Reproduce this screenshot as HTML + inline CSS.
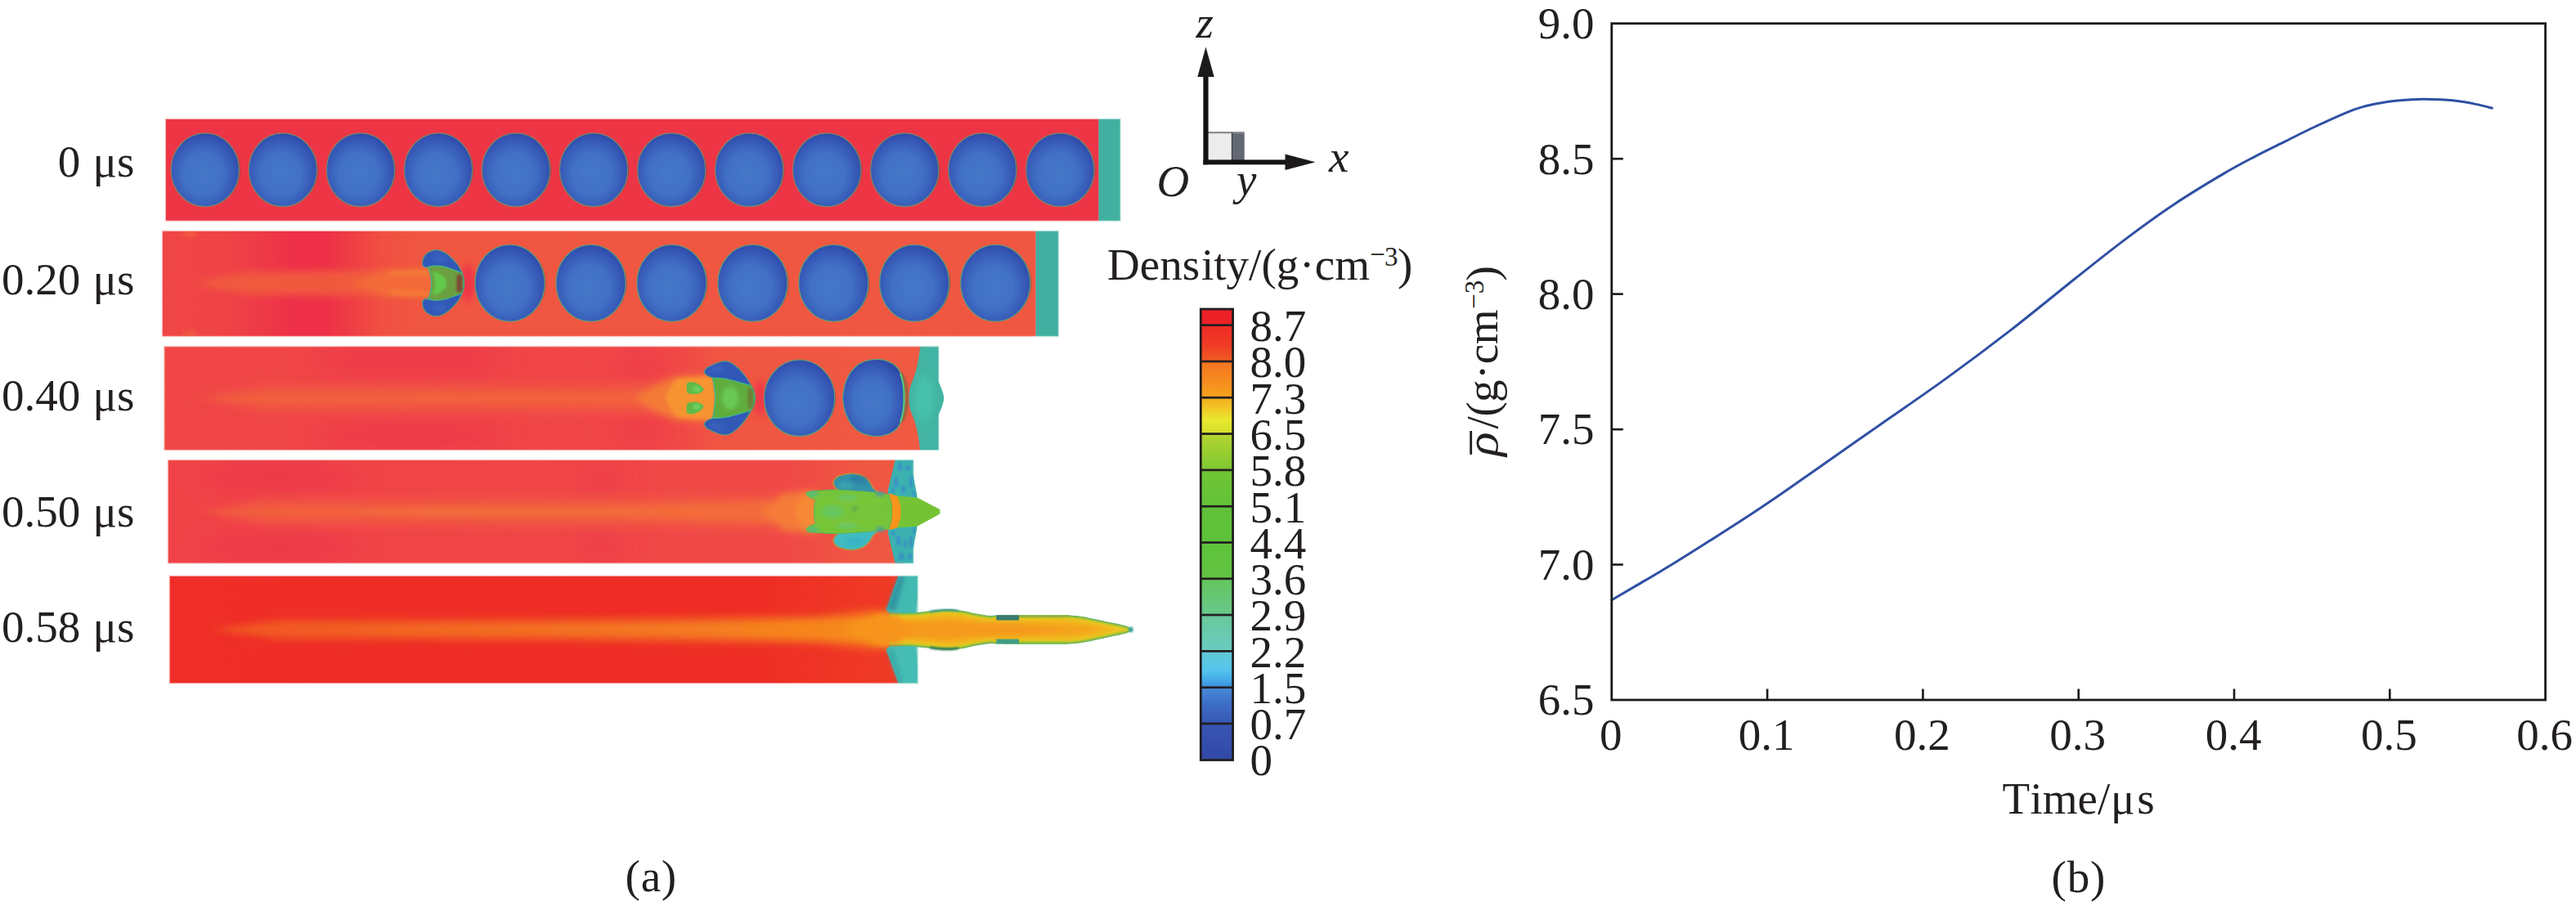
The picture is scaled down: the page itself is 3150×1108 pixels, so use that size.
<!DOCTYPE html>
<html><head><meta charset="utf-8"><title>figure</title>
<style>
html,body{margin:0;padding:0;background:#fff;}
body{width:3150px;height:1108px;overflow:hidden;position:relative;font-family:"Liberation Serif",serif;}
svg{position:absolute;left:0;top:0;display:block;}
text{font-family:"Liberation Serif",serif;font-size:55px;fill:#231f20;}
.it{font-style:italic;}
</style></head><body>
<svg width="3150" height="1108" viewBox="0 0 3150 1108">
<defs>
<radialGradient id="gb" cx="0.47" cy="0.56" r="0.58">
 <stop offset="0" stop-color="#4677c8"/><stop offset="0.5" stop-color="#4171c5"/><stop offset="0.8" stop-color="#3659b7"/><stop offset="1" stop-color="#2e48a7"/>
</radialGradient>
<filter id="b2" x="-20%" y="-20%" width="140%" height="140%"><feGaussianBlur stdDeviation="2"/></filter>
<filter id="b1" x="-20%" y="-20%" width="140%" height="140%"><feGaussianBlur stdDeviation="1"/></filter>
<filter id="b07" x="-20%" y="-20%" width="140%" height="140%"><feGaussianBlur stdDeviation="0.7"/></filter>
<filter id="b15" x="-30%" y="-30%" width="160%" height="160%"><feGaussianBlur stdDeviation="1.5"/></filter>
<filter id="b3" x="-30%" y="-50%" width="160%" height="200%"><feGaussianBlur stdDeviation="3"/></filter>
<filter id="b4" x="-30%" y="-50%" width="160%" height="200%"><feGaussianBlur stdDeviation="4"/></filter>
<filter id="b6" x="-30%" y="-60%" width="160%" height="220%"><feGaussianBlur stdDeviation="6"/></filter>
<filter id="b10" x="-30%" y="-80%" width="160%" height="260%"><feGaussianBlur stdDeviation="10"/></filter>
<filter id="b14" x="-30%" y="-100%" width="160%" height="300%"><feGaussianBlur stdDeviation="14"/></filter>
<filter id="b20" x="-50%" y="-50%" width="200%" height="200%"><feGaussianBlur stdDeviation="20"/></filter>
<linearGradient id="r1bg" x1="0" x2="1" y1="0" y2="0">
 <stop offset="0" stop-color="#f04646"/><stop offset="0.07" stop-color="#ef4346"/><stop offset="0.115" stop-color="#ee3a47"/><stop offset="0.145" stop-color="#ee3148"/><stop offset="0.19" stop-color="#ee3148"/><stop offset="0.215" stop-color="#ef3d46"/><stop offset="0.25" stop-color="#f04f42"/><stop offset="0.29" stop-color="#f05641"/><stop offset="1" stop-color="#f05741"/>
</linearGradient>
<linearGradient id="r2bg" x1="0" x2="1" y1="0" y2="0">
 <stop offset="0" stop-color="#f04646"/><stop offset="0.62" stop-color="#f04547"/><stop offset="0.68" stop-color="#f04946"/><stop offset="0.73" stop-color="#f05642"/><stop offset="1" stop-color="#f05942"/>
</linearGradient>
<linearGradient id="r3bg" x1="0" x2="1" y1="0" y2="0">
 <stop offset="0" stop-color="#f04347"/><stop offset="0.6" stop-color="#f04647"/><stop offset="0.85" stop-color="#f04a46"/><stop offset="0.93" stop-color="#f05642"/><stop offset="1" stop-color="#f05842"/>
</linearGradient>
<linearGradient id="r4bg" x1="0" x2="1" y1="0" y2="0">
 <stop offset="0" stop-color="#ee2e27"/><stop offset="0.8" stop-color="#ee2d25"/><stop offset="1" stop-color="#ef3c25"/>
</linearGradient>
<linearGradient id="r4core" gradientUnits="userSpaceOnUse" x1="300" x2="1090" y1="0" y2="0">
 <stop offset="0" stop-color="#f15d24"/><stop offset="0.3" stop-color="#f36b22"/><stop offset="0.65" stop-color="#f47a20"/><stop offset="0.92" stop-color="#f6881f"/><stop offset="1" stop-color="#f7921e"/>
</linearGradient>
<linearGradient id="cbar" x1="0" x2="0" y1="0" y2="1">
<stop offset="0.0000" stop-color="#ec1f27"/><stop offset="0.0345" stop-color="#ed2226"/><stop offset="0.0381" stop-color="#ee2a25"/><stop offset="0.0762" stop-color="#ef3a24"/><stop offset="0.1142" stop-color="#f15a25"/><stop offset="0.1179" stop-color="#f47421"/><stop offset="0.1578" stop-color="#f58a1f"/><stop offset="0.1940" stop-color="#f7a21c"/><stop offset="0.1976" stop-color="#f4ac1e"/><stop offset="0.2303" stop-color="#efd52a"/><stop offset="0.2466" stop-color="#e8e82e"/><stop offset="0.2756" stop-color="#d3df2c"/><stop offset="0.2792" stop-color="#b3d430"/><stop offset="0.3155" stop-color="#98ce30"/><stop offset="0.3554" stop-color="#7ec832"/><stop offset="0.3590" stop-color="#70c534"/><stop offset="0.4352" stop-color="#62c238"/><stop offset="0.4388" stop-color="#5fc139"/><stop offset="0.5150" stop-color="#5dc23a"/><stop offset="0.5186" stop-color="#5fc33b"/><stop offset="0.5947" stop-color="#62c443"/><stop offset="0.5984" stop-color="#64c55c"/><stop offset="0.6763" stop-color="#68c88c"/><stop offset="0.6800" stop-color="#69c89a"/><stop offset="0.7561" stop-color="#69ccc0"/><stop offset="0.7597" stop-color="#62c8d4"/><stop offset="0.8015" stop-color="#53c4ee"/><stop offset="0.8232" stop-color="#44a8e8"/><stop offset="0.8377" stop-color="#3c8ede"/><stop offset="0.8413" stop-color="#4789d8"/><stop offset="0.8776" stop-color="#3d6cc6"/><stop offset="0.9175" stop-color="#3757b4"/><stop offset="0.9211" stop-color="#3955b3"/><stop offset="1.0000" stop-color="#3149a7"/></linearGradient>
</defs>
<g id="row0"><rect x="201.6" y="144.6" width="1142.0" height="126.4" fill="#fbdcda"/><rect x="202.3" y="145.3" width="1141.3" height="125.0" fill="#f6a8a4"/><rect x="1343.6" y="144.6" width="27.2" height="126.4" fill="#d4efea"/><rect x="1343.6" y="145.3" width="26.5" height="125.0" fill="#9fd8cf"/><rect x="203" y="146" width="1140.6" height="123.6" fill="#ee3545"/><rect x="1343.6" y="146" width="25.8" height="123.6" fill="#41b0a0"/><ellipse cx="252.4" cy="208.1" rx="41.7" ry="43.4" fill="#6f4d4a" opacity="0.6"/><ellipse cx="250.8" cy="207.7" rx="41.7" ry="44.9" fill="url(#gb)" stroke="#7b8a6a" stroke-width="1.3" stroke-opacity="0.9"/><ellipse cx="347.5" cy="208.1" rx="41.7" ry="43.4" fill="#6f4d4a" opacity="0.6"/><ellipse cx="345.9" cy="207.7" rx="41.7" ry="44.9" fill="url(#gb)" stroke="#7b8a6a" stroke-width="1.3" stroke-opacity="0.9"/><ellipse cx="442.5" cy="208.1" rx="41.7" ry="43.4" fill="#6f4d4a" opacity="0.6"/><ellipse cx="440.9" cy="207.7" rx="41.7" ry="44.9" fill="url(#gb)" stroke="#7b8a6a" stroke-width="1.3" stroke-opacity="0.9"/><ellipse cx="537.6" cy="208.1" rx="41.7" ry="43.4" fill="#6f4d4a" opacity="0.6"/><ellipse cx="536.0" cy="207.7" rx="41.7" ry="44.9" fill="url(#gb)" stroke="#7b8a6a" stroke-width="1.3" stroke-opacity="0.9"/><ellipse cx="632.6" cy="208.1" rx="41.7" ry="43.4" fill="#6f4d4a" opacity="0.6"/><ellipse cx="631.0" cy="207.7" rx="41.7" ry="44.9" fill="url(#gb)" stroke="#7b8a6a" stroke-width="1.3" stroke-opacity="0.9"/><ellipse cx="727.6" cy="208.1" rx="41.7" ry="43.4" fill="#6f4d4a" opacity="0.6"/><ellipse cx="726.0" cy="207.7" rx="41.7" ry="44.9" fill="url(#gb)" stroke="#7b8a6a" stroke-width="1.3" stroke-opacity="0.9"/><ellipse cx="822.7" cy="208.1" rx="41.7" ry="43.4" fill="#6f4d4a" opacity="0.6"/><ellipse cx="821.1" cy="207.7" rx="41.7" ry="44.9" fill="url(#gb)" stroke="#7b8a6a" stroke-width="1.3" stroke-opacity="0.9"/><ellipse cx="917.8" cy="208.1" rx="41.7" ry="43.4" fill="#6f4d4a" opacity="0.6"/><ellipse cx="916.2" cy="207.7" rx="41.7" ry="44.9" fill="url(#gb)" stroke="#7b8a6a" stroke-width="1.3" stroke-opacity="0.9"/><ellipse cx="1012.8" cy="208.1" rx="41.7" ry="43.4" fill="#6f4d4a" opacity="0.6"/><ellipse cx="1011.2" cy="207.7" rx="41.7" ry="44.9" fill="url(#gb)" stroke="#7b8a6a" stroke-width="1.3" stroke-opacity="0.9"/><ellipse cx="1107.8" cy="208.1" rx="41.7" ry="43.4" fill="#6f4d4a" opacity="0.6"/><ellipse cx="1106.2" cy="207.7" rx="41.7" ry="44.9" fill="url(#gb)" stroke="#7b8a6a" stroke-width="1.3" stroke-opacity="0.9"/><ellipse cx="1202.9" cy="208.1" rx="41.7" ry="43.4" fill="#6f4d4a" opacity="0.6"/><ellipse cx="1201.3" cy="207.7" rx="41.7" ry="44.9" fill="url(#gb)" stroke="#7b8a6a" stroke-width="1.3" stroke-opacity="0.9"/><ellipse cx="1297.9" cy="208.1" rx="41.7" ry="43.4" fill="#6f4d4a" opacity="0.6"/><ellipse cx="1296.3" cy="207.7" rx="41.7" ry="44.9" fill="url(#gb)" stroke="#7b8a6a" stroke-width="1.3" stroke-opacity="0.9"/></g>
<g id="row1"><rect x="197.6" y="281.6" width="1069.0" height="130.6" fill="#fbdcda"/><rect x="198.3" y="282.3" width="1068.3" height="129.2" fill="#f6a8a4"/><rect x="1266.6" y="281.6" width="28.6" height="130.6" fill="#d4efea"/><rect x="1266.6" y="282.3" width="27.9" height="129.2" fill="#9fd8cf"/><rect x="199" y="283" width="1067.6" height="127.8" fill="url(#r1bg)"/><rect x="1266.6" y="283" width="27.2" height="127.8" fill="#41b0a0"/><clipPath id="c1"><rect x="199" y="283" width="1067.6" height="127.8"/></clipPath><g clip-path="url(#c1)"><g filter="url(#b3)" opacity="0.8"><ellipse cx="232" cy="285" rx="9" ry="4" fill="#f3683f"/><ellipse cx="232" cy="409" rx="9" ry="4" fill="#f3683f"/></g></g><g filter="url(#b4)"><path d="M236,346.3 L300,332.5 L470,330 L526,328 L526,365 L470,362.5 L300,360 Z" fill="#f15c3e" opacity="0.92"/></g><g filter="url(#b3)"><path d="M428,346.3 L470,330 L528,327.5 L528,365.5 L470,362.5 Z" fill="#f36b39"/></g><g filter="url(#b2)"><path d="M476,332.5 L526,330.5 L526,336 L476,337 Z" fill="#f57d38"/><path d="M476,360 L526,362 L526,356.5 L476,355.5 Z" fill="#f57d38"/></g><ellipse cx="572" cy="346.2" rx="8" ry="22" fill="#ee3048" filter="url(#b4)"/><g filter="url(#b07)"><path d="M516.3,324.0 C516.5,322.8 516.6,318.6 517.3,316.5 C518.0,314.4 519.1,312.8 520.5,311.3 C521.9,309.8 523.6,308.5 525.5,307.6 C527.4,306.7 529.6,306.0 531.8,305.8 C534.0,305.6 536.1,305.6 538.5,306.4 C540.9,307.1 543.7,308.7 546.0,310.3 C548.3,311.9 550.4,313.8 552.5,315.8 C554.6,317.8 556.9,320.2 558.7,322.5 C560.5,324.8 562.0,327.1 563.2,329.5 C564.5,331.9 565.5,334.2 566.2,337.0 C566.9,339.8 567.6,343.1 567.6,346.2 C567.6,349.3 566.9,352.6 566.2,355.4 C565.5,358.2 564.5,360.5 563.2,362.9 C562.0,365.3 560.5,367.6 558.7,369.9 C556.9,372.2 554.6,374.6 552.5,376.6 C550.4,378.6 548.3,380.5 546.0,382.1 C543.7,383.7 540.9,385.2 538.5,386.0 C536.1,386.8 534.0,386.8 531.8,386.6 C529.6,386.4 527.4,385.7 525.5,384.8 C523.6,383.9 521.9,382.6 520.5,381.1 C519.1,379.6 518.0,378.0 517.3,375.9 C516.6,373.8 516.5,369.6 516.3,368.4 L516.3,368.4 C516.9,367.9 518.8,365.8 520.0,365.4 C521.2,365.0 523.0,365.7 523.6,365.8 L523.6,365.8 C524.1,364.3 525.9,360.3 526.6,357.0 C527.3,353.7 527.6,349.8 527.6,346.2 C527.6,342.6 527.3,338.8 526.6,335.5 C525.9,332.2 524.1,328.1 523.6,326.6 L523.6,326.6 C523.0,326.7 521.2,327.4 520.0,327.0 C518.8,326.6 516.9,324.5 516.3,324.0 Z" fill="#3158b7" stroke="#5f9a78" stroke-width="1.2"/><path d="M523.6,326.6 C524.8,326.4 528.4,325.4 531.0,325.2 C533.6,325.0 536.2,325.1 539.0,325.5 C541.8,325.9 545.0,326.7 548.0,327.6 C551.0,328.5 554.3,329.8 557.0,330.8 C559.7,331.8 563.2,333.1 564.4,333.6 L564.4,333.6 C564.8,334.7 566.2,337.9 566.6,340.0 C567.0,342.1 567.0,344.1 567.0,346.2 C567.0,348.3 567.0,350.3 566.6,352.4 C566.2,354.5 564.8,357.7 564.4,358.8 L564.4,358.8 C563.2,359.3 559.7,360.6 557.0,361.6 C554.3,362.6 551.0,363.9 548.0,364.8 C545.0,365.7 541.8,366.5 539.0,366.9 C536.2,367.3 533.6,367.4 531.0,367.2 C528.4,367.0 524.8,366.0 523.6,365.8 L523.6,365.8 C524.1,364.3 525.9,360.3 526.6,357.0 C527.3,353.7 527.6,349.8 527.6,346.2 C527.6,342.6 527.3,338.8 526.6,335.5 C525.9,332.2 524.1,328.1 523.6,326.6 Z" fill="#6c9f3f" stroke="#40b88c" stroke-width="1.3"/></g><ellipse cx="538" cy="316" rx="9" ry="5" fill="#3c66c0" filter="url(#b2)" opacity="0.7"/><ellipse cx="538" cy="376.5" rx="9" ry="5" fill="#3c66c0" filter="url(#b2)" opacity="0.7"/><path d="M528.5,331.5 C530.5,336 531.6,341 531.6,346.2 C531.6,351.5 530.5,356.5 528.5,361 C539,359.5 546,353.5 546,346.2 C546,339 539,333 528.5,331.5 Z" fill="#64c94b" filter="url(#b15)"/><rect x="558.3" y="335.2" width="7.2" height="22.4" rx="3" fill="#7c4a36" filter="url(#b15)"/><ellipse cx="625.1" cy="346.6" rx="42.6" ry="45.4" fill="#6f4d4a" opacity="0.6"/><ellipse cx="623.5" cy="346.2" rx="42.6" ry="46.9" fill="url(#gb)" stroke="#5fa07a" stroke-width="1.3" stroke-opacity="0.9"/><ellipse cx="724.1" cy="346.6" rx="42.6" ry="45.4" fill="#6f4d4a" opacity="0.6"/><ellipse cx="722.5" cy="346.2" rx="42.6" ry="46.9" fill="url(#gb)" stroke="#5fa07a" stroke-width="1.3" stroke-opacity="0.9"/><ellipse cx="823.0" cy="346.6" rx="42.6" ry="45.4" fill="#6f4d4a" opacity="0.6"/><ellipse cx="821.4" cy="346.2" rx="42.6" ry="46.9" fill="url(#gb)" stroke="#5fa07a" stroke-width="1.3" stroke-opacity="0.9"/><ellipse cx="922.0" cy="346.6" rx="42.6" ry="45.4" fill="#6f4d4a" opacity="0.6"/><ellipse cx="920.4" cy="346.2" rx="42.6" ry="46.9" fill="url(#gb)" stroke="#5fa07a" stroke-width="1.3" stroke-opacity="0.9"/><ellipse cx="1020.9" cy="346.6" rx="42.6" ry="45.4" fill="#6f4d4a" opacity="0.6"/><ellipse cx="1019.3" cy="346.2" rx="42.6" ry="46.9" fill="url(#gb)" stroke="#5fa07a" stroke-width="1.3" stroke-opacity="0.9"/><ellipse cx="1119.8" cy="346.6" rx="42.6" ry="45.4" fill="#6f4d4a" opacity="0.6"/><ellipse cx="1118.2" cy="346.2" rx="42.6" ry="46.9" fill="url(#gb)" stroke="#5fa07a" stroke-width="1.3" stroke-opacity="0.9"/><ellipse cx="1218.8" cy="346.6" rx="42.6" ry="45.4" fill="#6f4d4a" opacity="0.6"/><ellipse cx="1217.2" cy="346.2" rx="42.6" ry="46.9" fill="url(#gb)" stroke="#5fa07a" stroke-width="1.3" stroke-opacity="0.9"/></g>
<g id="row2"><rect x="199.9" y="422.8" width="925.1" height="128.5" fill="#fbdcda"/><rect x="200.6" y="423.5" width="924.4" height="127.1" fill="#f6a8a4"/><rect x="1125.0" y="422.8" width="23.7" height="128.5" fill="#d4efea"/><rect x="1125.0" y="423.5" width="23.0" height="127.1" fill="#9fd8cf"/><clipPath id="c2"><rect x="201.3" y="424.2" width="960" height="125.7"/></clipPath><g clip-path="url(#c2)"><rect x="201.3" y="424.2" width="930" height="125.7" fill="url(#r2bg)"/><g filter="url(#b14)"><ellipse cx="500" cy="441" rx="125" ry="15" fill="#ee3849"/><ellipse cx="500" cy="533" rx="125" ry="15" fill="#ee3849"/><ellipse cx="785" cy="447" rx="32" ry="13" fill="#ee3b48"/><ellipse cx="785" cy="527" rx="32" ry="13" fill="#ee3b48"/></g><g filter="url(#b4)"><path d="M240,486.8 L320,469 L700,467 L800,465 L830,461 L830,513 L800,509 L700,507 L320,505 Z" fill="#f15242" opacity="0.9"/><path d="M252,486.8 L330,479.5 L700,478 L800,476 L800,498 L700,496 L330,494.5 Z" fill="#f2603c"/><path d="M775,486.8 L800,472 L826,460 L874,458 L874,516 L826,514 L800,502 Z" fill="#f47a37"/></g><path d="M813,486.8 L822,470 L830,463 L873,460.5 L875,486.8 L873,513 L830,510.5 L822,504 Z" fill="#f79433" filter="url(#b2)"/><ellipse cx="929" cy="486.8" rx="7" ry="22" fill="#ee3648" filter="url(#b4)"/><path d="M1125,424.2 L1147.3,424.2 L1147.3,466 C1150,472 1154.3,481 1154.3,486.8 C1154.3,493 1150,502 1147.3,508 L1147.3,549.9 L1125,549.9 C1123.5,535 1121,520 1114.5,505 C1110.5,497 1110.5,477 1114.5,469 C1121,454 1123.5,439 1125,424.2 Z" fill="#43b4a3"/><ellipse cx="1130" cy="486.8" rx="12" ry="28" fill="#4ac9b3" opacity="0.65" filter="url(#b4)"/><g filter="url(#b07)"><path d="M861.0,454.5 C861.1,454.3 861.0,454.0 861.6,453.2 C862.2,452.4 862.7,450.8 864.6,449.5 C866.5,448.2 870.5,446.5 873.2,445.3 C875.9,444.1 878.6,443.1 880.9,442.5 C883.2,441.9 885.0,441.6 887.1,441.7 C889.2,441.8 891.1,442.1 893.4,443.3 C895.7,444.5 898.8,446.8 901.1,448.7 C903.4,450.6 905.3,452.7 907.3,454.9 C909.2,457.1 911.0,459.2 912.8,461.9 C914.6,464.6 916.7,468.3 918.2,471.2 C919.8,474.1 921.2,476.4 922.1,479.0 C923.0,481.6 923.6,484.2 923.6,486.8 C923.6,489.4 923.0,492.0 922.1,494.6 C921.2,497.2 919.8,499.6 918.2,502.4 C916.7,505.3 914.6,509.0 912.8,511.7 C911.0,514.4 909.2,516.5 907.3,518.7 C905.3,520.9 903.4,523.0 901.1,524.9 C898.8,526.8 895.7,529.1 893.4,530.3 C891.1,531.5 889.2,531.8 887.1,531.9 C885.0,532.0 883.2,531.7 880.9,531.1 C878.6,530.5 875.9,529.5 873.2,528.3 C870.5,527.1 866.5,525.4 864.6,524.1 C862.7,522.8 862.2,521.2 861.6,520.4 C861.0,519.6 861.1,519.3 861.0,519.1 L861.0,519.1 C861.1,518.7 861.1,517.8 861.8,516.9 C862.5,516.0 863.8,514.7 865.4,513.8 C867.0,512.9 870.6,511.8 871.6,511.4 L871.6,511.4 C871.9,509.4 873.1,503.4 873.6,499.3 C874.1,495.2 874.7,491.0 874.7,486.8 C874.7,482.6 874.1,478.4 873.6,474.3 C873.1,470.2 871.9,464.2 871.6,462.2 L871.6,462.2 C870.6,461.8 867.0,460.7 865.4,459.8 C863.8,458.9 862.5,457.6 861.8,456.7 C861.1,455.8 861.1,454.9 861.0,454.5 Z" fill="#3158b7" stroke="#5f9a78" stroke-width="1.2"/><path d="M871.6,462.2 C872.9,462.2 876.5,462.1 879.4,462.4 C882.2,462.6 885.1,463.0 888.7,463.7 C892.3,464.4 896.7,465.6 901.1,466.8 C905.5,468.0 912.2,469.8 915.1,470.7 C918.0,471.6 918.0,471.9 918.6,472.2 L918.6,472.2 C919.1,473.4 921.0,477.1 921.6,479.5 C922.2,481.9 922.4,484.4 922.4,486.8 C922.4,489.2 922.2,491.7 921.6,494.1 C921.0,496.5 919.1,500.2 918.6,501.4 L918.6,501.4 C918.0,501.7 918.0,502.0 915.1,502.9 C912.2,503.8 905.5,505.6 901.1,506.8 C896.7,508.0 892.3,509.2 888.7,509.9 C885.1,510.6 882.2,511.0 879.4,511.2 C876.5,511.5 872.9,511.4 871.6,511.4 L871.6,511.4 C871.9,509.4 873.1,503.4 873.6,499.3 C874.1,495.2 874.7,491.0 874.7,486.8 C874.7,482.6 874.1,478.4 873.6,474.3 C873.1,470.2 871.9,464.2 871.6,462.2 Z" fill="#61ad3e" stroke="#40b88c" stroke-width="1.2"/></g><ellipse cx="877" cy="451.5" rx="10" ry="4.5" fill="#3c66c0" filter="url(#b2)" opacity="0.6" transform="rotate(-18 877 451.5)"/><ellipse cx="877" cy="522.1" rx="10" ry="4.5" fill="#3c66c0" filter="url(#b2)" opacity="0.6" transform="rotate(18 877 522.1)"/><ellipse cx="893" cy="486.8" rx="10" ry="14" fill="#68c955" filter="url(#b2)"/><rect x="914.5" y="474" width="6.5" height="26" rx="3" fill="#6d7a38" filter="url(#b2)"/><g filter="url(#b07)"><path d="M839.8,468.5 C845,465.5 856,467.5 860.7,476.5 C857,483 845,483.5 840.2,480 C839.3,476 839.3,472 839.8,468.5 Z" fill="#62b947"/><path d="M839.8,505.1 C845,508.1 856,506.1 860.7,497.1 C857,490.6 845,490.1 840.2,493.6 C839.3,497.6 839.3,501.6 839.8,505.1 Z" fill="#62b947"/></g><ellipse cx="852" cy="476" rx="5" ry="3.5" fill="#6bd263" filter="url(#b1)"/><ellipse cx="852" cy="497.6" rx="5" ry="3.5" fill="#6bd263" filter="url(#b1)"/><ellipse cx="979.2" cy="487.2" rx="43.1" ry="45.1" fill="#6f4d4a" opacity="0.6"/><ellipse cx="977.6" cy="486.8" rx="43.1" ry="46.6" fill="url(#gb)" stroke="#5fa07a" stroke-width="1.3" stroke-opacity="0.9"/><path d="M1102,457 C1107.6,467 1109.2,478 1109.2,486.5 C1109.2,495 1107.6,506 1102,516" fill="none" stroke="#86653a" stroke-width="4.5" opacity="0.8" filter="url(#b1)"/><path d="M1030.4,486.5 C1030.9,483.6 1031.7,474.6 1033.4,469.2 C1035.2,463.8 1037.7,458.5 1040.9,454.3 C1044.1,450.1 1047.6,446.3 1052.8,443.8 C1058.0,441.3 1066.4,439.6 1072.1,439.4 C1077.8,439.1 1082.8,440.6 1087.0,442.3 C1091.2,444.0 1094.9,446.8 1097.5,449.8 C1100.1,452.8 1101.4,456.5 1102.7,460.2 C1104.0,463.9 1104.8,468.3 1105.4,472.1 C1106.0,475.9 1106.2,480.6 1106.2,483.0 C1106.2,485.4 1105.4,485.3 1105.4,486.5 C1105.4,487.7 1106.2,487.6 1106.2,490.0 C1106.2,492.4 1106.0,497.1 1105.4,500.9 C1104.8,504.7 1104.0,509.1 1102.7,512.8 C1101.4,516.5 1100.1,520.2 1097.5,523.2 C1094.9,526.2 1091.2,529.0 1087.0,530.7 C1082.8,532.4 1077.8,533.9 1072.1,533.6 C1066.4,533.4 1058.0,531.7 1052.8,529.2 C1047.6,526.7 1044.1,522.9 1040.9,518.7 C1037.7,514.5 1035.2,509.2 1033.4,503.8 C1031.7,498.4 1030.9,489.4 1030.4,486.5 Z" fill="url(#gb)" stroke="#5fa07a" stroke-width="1.3" filter="url(#b07)"/><path d="M1100.8,457 C1104.6,466 1105.6,476 1105.4,486.5 C1105.6,497 1104.6,507 1100.8,516" fill="none" stroke="#52c87a" stroke-width="2" filter="url(#b07)"/></g></g>
<g id="row3"><rect x="204.5" y="561.7" width="890.5" height="128.1" fill="#fbdcda"/><rect x="205.2" y="562.4" width="889.8" height="126.7" fill="#f6a8a4"/><rect x="1095.0" y="561.7" width="22.8" height="128.1" fill="#d4efea"/><rect x="1095.0" y="562.4" width="22.1" height="126.7" fill="#9fd8cf"/><clipPath id="c3"><rect x="205.9" y="563.1" width="960" height="125.3"/></clipPath><g clip-path="url(#c3)"><rect x="205.9" y="563.1" width="900" height="125.3" fill="url(#r3bg)"/><g filter="url(#b14)"><ellipse cx="340" cy="583" rx="105" ry="15" fill="#ee3849"/><ellipse cx="340" cy="669" rx="105" ry="15" fill="#ee3849"/><ellipse cx="735" cy="585" rx="30" ry="13" fill="#ee3b48"/><ellipse cx="735" cy="667" rx="30" ry="13" fill="#ee3b48"/></g><g filter="url(#b4)"><path d="M245,625.8 L325,608 L700,605 L960,601 L992,598 L992,654 L960,651 L700,647 L325,644 Z" fill="#f15242" opacity="0.9"/><path d="M256,625.8 L335,618.5 L700,617 L960,613 L960,639 L700,635 L335,633.5 Z" fill="#f2603c"/><path d="M420,625.8 L520,620 L780,619 L830,615 L960,611 L960,641 L830,637 L780,633 L520,632 Z" fill="#f36a3b"/><path d="M930,625.8 L960,603 L1000,600.5 L1000,651.5 L960,649 Z" fill="#f47c37"/></g><path d="M972,625.8 L982,604 L1000,602 L1000,650 L982,648 Z" fill="#f68a36" filter="url(#b3)"/><path d="M1094.6,563.1 L1116.4,563.1 L1116.4,579 L1121.5,606.6 L1121.5,645 L1116.4,672.5 L1116.4,688.4 L1094.6,688.4 L1085.8,652.3 L1085.8,599.3 Z" fill="#3bb1b0"/><g filter="url(#b1)" opacity="0.75"><rect x="1098" y="566" width="5" height="10" rx="2" fill="#3a8acb"/><rect x="1107" y="570" width="7" height="5" rx="2" fill="#3a8acb"/><rect x="1112" y="583" width="4" height="14" rx="2" fill="#3a8acb"/><rect x="1093" y="584" width="5" height="12" rx="2" fill="#3a8acb"/><rect x="1102" y="594" width="5" height="9" rx="2" fill="#3a8acb"/><rect x="1096" y="655" width="5" height="12" rx="2" fill="#3a8acb"/><rect x="1105" y="660" width="4" height="10" rx="2" fill="#3a8acb"/><rect x="1112" y="655" width="4" height="14" rx="2" fill="#3a8acb"/><rect x="1099" y="676" width="6" height="9" rx="2" fill="#3a8acb"/><rect x="1110" y="677" width="5" height="7" rx="2" fill="#3a8acb"/><rect x="1090" y="597" width="4" height="6" rx="2" fill="#3a8acb"/><rect x="1090" y="649" width="4" height="6" rx="2" fill="#3a8acb"/><rect x="1116" y="600" width="3" height="8" rx="2" fill="#3a8acb"/><rect x="1116" y="645" width="3" height="8" rx="2" fill="#3a8acb"/></g><g filter="url(#b07)"><path d="M1018.8,591.3 C1019.1,590.4 1019.1,587.6 1020.5,586.0 C1021.9,584.4 1023.5,582.7 1027.0,581.5 C1030.5,580.3 1036.9,578.9 1041.4,578.9 C1045.9,578.9 1050.3,579.8 1054.0,581.5 C1057.7,583.2 1061.0,586.6 1063.3,589.1 C1065.6,591.6 1066.0,594.4 1067.6,596.4 C1069.2,598.4 1071.0,599.8 1073.0,601.0 C1075.0,602.2 1078.2,603.2 1079.3,603.7 L1079.3,603.7 C1076.1,603.7 1067.4,603.8 1060.0,603.5 C1052.6,603.2 1041.2,602.9 1035.0,602.0 C1028.8,601.1 1025.7,599.8 1023.0,598.0 C1020.3,596.2 1019.5,592.4 1018.8,591.3 Z" fill="#3392aa" stroke="#c28d38" stroke-width="1.6"/><path d="M1018.8,660.3 C1019.5,659.2 1020.3,655.4 1023.0,653.6 C1025.7,651.8 1028.8,650.5 1035.0,649.6 C1041.2,648.7 1052.6,648.4 1060.0,648.1 C1067.4,647.8 1076.1,647.9 1079.3,647.9 L1079.3,647.9 C1078.2,648.3 1075.0,649.4 1073.0,650.6 C1071.0,651.8 1069.2,653.2 1067.6,655.2 C1066.0,657.2 1065.6,660.0 1063.3,662.5 C1061.0,665.0 1057.7,668.4 1054.0,670.1 C1050.3,671.8 1045.9,672.7 1041.4,672.7 C1036.9,672.7 1030.5,671.3 1027.0,670.1 C1023.5,668.9 1021.9,667.2 1020.5,665.6 C1019.1,664.0 1019.1,661.2 1018.8,660.3 Z" fill="#3fbcc0" stroke="#c28d38" stroke-width="1.6"/></g><ellipse cx="1050" cy="586.5" rx="11" ry="4.5" fill="#2b7fa3" filter="url(#b2)" transform="rotate(12 1050 586.5)"/><ellipse cx="1034" cy="594" rx="9" ry="4" fill="#3aa4b0" filter="url(#b2)"/><ellipse cx="1046" cy="662" rx="12" ry="5" fill="#3ab2c4" filter="url(#b2)"/><g filter="url(#b07)"><path d="M1095,606.2 L1121.5,608.6 L1149.4,623 L1149.4,628.6 L1121.5,643.8 L1095,645.6 Z" fill="#74c335"/><path d="M1086.6,603.6 C1091,604.6 1094.5,605.6 1096.8,606.4 C1103.4,619 1103.4,633 1096.8,645.4 C1094.5,646.2 1091,647.2 1086.6,648.2 C1090.4,633 1090.4,619 1086.6,603.6 Z" fill="#f7941f"/><path d="M985.7,604.4 C985.8,604.1 986.0,603.1 986.5,602.6 C987.0,602.1 986.8,601.9 989.0,601.5 C991.2,601.1 994.7,600.6 1000.0,600.2 C1005.3,599.8 1013.9,599.0 1021.0,599.0 C1028.2,599.0 1034.4,599.5 1042.9,600.0 C1051.4,600.5 1064.7,601.5 1072.0,602.3 C1079.3,603.1 1084.2,604.2 1086.6,604.6 L1086.6,604.6 C1087.1,606.3 1089.2,611.5 1089.8,615.0 C1090.4,618.5 1090.4,622.2 1090.4,625.8 C1090.4,629.4 1090.4,633.1 1089.8,636.6 C1089.2,640.1 1087.1,645.3 1086.6,647.0 L1086.6,647.0 C1084.2,647.4 1079.3,648.5 1072.0,649.3 C1064.7,650.1 1051.4,651.0 1042.9,651.6 C1034.4,652.1 1028.2,652.6 1021.0,652.6 C1013.9,652.6 1005.3,651.8 1000.0,651.4 C994.7,651.0 991.2,650.5 989.0,650.1 C986.8,649.7 987.0,649.5 986.5,649.0 C986.0,648.5 985.8,647.5 985.7,647.2 L985.7,647.2 C986.4,646.6 988.1,644.7 990.0,643.5 C991.9,642.3 996.0,641.1 997.0,640.0 C998.0,638.9 996.3,637.5 996.2,637.0 L996.2,637.0 C996.1,635.1 995.4,629.5 995.4,625.8 C995.4,622.1 996.1,616.5 996.2,614.6 L996.2,614.6 C996.3,614.1 998.0,612.7 997.0,611.6 C996.0,610.5 991.9,609.2 990.0,608.0 C988.1,606.8 986.4,605.0 985.7,604.4 Z" fill="#74c53a" stroke="#5bb25a" stroke-width="1"/></g><g filter="url(#b2)"><ellipse cx="1018" cy="625.8" rx="13" ry="8" fill="#68c85f"/><ellipse cx="1036" cy="609.5" rx="12" ry="4" fill="#68c868"/><ellipse cx="1036" cy="642" rx="12" ry="4" fill="#68c868"/><ellipse cx="994" cy="604" rx="7" ry="2.2" fill="#4ab59a"/><ellipse cx="994" cy="647.5" rx="7" ry="2.2" fill="#4ab59a"/><ellipse cx="1076" cy="604" rx="5" ry="2.2" fill="#3f90b8"/><ellipse cx="1076" cy="647.5" rx="5" ry="2.2" fill="#3f90b8"/><rect x="1000" y="611.5" width="82" height="2" fill="#86c42e"/><rect x="1000" y="638" width="82" height="2" fill="#86c42e"/><ellipse cx="1045" cy="622" rx="3" ry="2.5" fill="#5a9a50"/></g></g></g>
<g id="row4"><rect x="206.3" y="703.4" width="892.2" height="133.2" fill="#fbdcda"/><rect x="207.0" y="704.1" width="891.5" height="131.8" fill="#f6a8a4"/><rect x="1098.5" y="703.4" width="24.6" height="133.2" fill="#d4efea"/><rect x="1098.5" y="704.1" width="23.9" height="131.8" fill="#9fd8cf"/><clipPath id="c4"><rect x="207.7" y="704.8" width="1200" height="130.4"/></clipPath><g clip-path="url(#c4)"><rect x="207.7" y="704.8" width="900" height="130.4" fill="url(#r4bg)"/><g filter="url(#b4)"><path d="M258,770 L340,758.5 L700,756 L1000,751.5 L1060,744 L1090,746 L1090,794 L1060,796 L1000,788.5 L700,784 L340,781.5 Z" fill="#f15624"/><path d="M300,770 L520,764.5 L830,762 L1000,758 L1090,751 L1090,789 L1000,782 L830,778 L520,775.5 Z" fill="url(#r4core)"/><path d="M1030,770 L1066,751 L1092,749 L1092,791 L1066,789 Z" fill="#f7941e"/></g><path d="M1098.5,704.8 L1121.7,704.8 L1121.7,728 L1120.4,750 L1087.7,750 L1083.8,746.1 Z" fill="#42bab1"/><path d="M1098.5,835.2 L1121.7,835.2 L1121.7,812 L1120.4,790 L1087.7,790 L1083.8,794.5 Z" fill="#45bdb4"/><path d="M1098.5,704.8 L1107,704.8 L1095,747 L1083.8,746.1 Z" fill="#3397a2" filter="url(#b2)"/><path d="M1098.5,835.2 L1104,835.2 L1092,793 L1083.8,794.5 Z" fill="#3aa7a8" filter="url(#b2)" opacity="0.8"/><path d="M1120.1,749.0 C1123.3,748.6 1132.7,747.5 1139.2,746.9 C1145.7,746.2 1152.4,745.0 1159.0,745.1 C1165.6,745.2 1173.3,746.4 1178.8,747.2 C1184.3,748.1 1186.9,749.3 1192.0,750.2 C1197.1,751.1 1204.8,752.4 1209.2,752.8 C1213.6,753.2 1212.5,752.6 1218.4,752.5 C1224.3,752.4 1232.9,752.2 1244.8,752.2 C1256.7,752.2 1279.5,752.2 1290.0,752.2 C1300.5,752.2 1302.8,752.1 1308.0,752.4 C1313.2,752.6 1316.1,753.0 1321.0,753.7 C1325.9,754.4 1331.2,755.6 1337.2,756.8 C1343.2,758.0 1350.4,759.7 1357.0,761.1 C1363.6,762.5 1372.1,763.9 1376.8,765.4 C1381.5,766.9 1384.0,769.2 1385.4,770.0 L1385.4,770.0 C1384.0,770.8 1381.5,773.1 1376.8,774.6 C1372.1,776.1 1363.6,777.5 1357.0,778.9 C1350.4,780.3 1343.2,782.0 1337.2,783.2 C1331.2,784.4 1325.9,785.6 1321.0,786.3 C1316.1,787.0 1313.2,787.4 1308.0,787.6 C1302.8,787.9 1300.5,787.8 1290.0,787.8 C1279.5,787.8 1256.7,787.8 1244.8,787.8 C1232.9,787.8 1224.3,787.6 1218.4,787.5 C1212.5,787.4 1213.6,786.8 1209.2,787.2 C1204.8,787.6 1197.1,788.9 1192.0,789.8 C1186.9,790.7 1184.3,791.9 1178.8,792.8 C1173.3,793.6 1165.6,794.8 1159.0,794.9 C1152.4,795.0 1145.7,793.8 1139.2,793.1 C1132.7,792.5 1123.3,791.4 1120.1,791.0 Z" fill="#52b488" filter="url(#b07)"/><path d="M1087.7,750.4 C1093.1,750.2 1111.5,749.9 1120.1,749.4 C1128.7,748.9 1132.7,747.9 1139.2,747.3 C1145.7,746.6 1152.4,745.5 1159.0,745.5 C1165.6,745.5 1173.3,746.8 1178.8,747.6 C1184.3,748.5 1186.9,749.7 1192.0,750.6 C1197.1,751.5 1204.8,752.8 1209.2,753.2 C1213.6,753.6 1212.5,753.0 1218.4,752.9 C1224.3,752.8 1232.9,752.6 1244.8,752.6 C1256.7,752.6 1279.5,752.6 1290.0,752.6 C1300.5,752.6 1302.8,752.5 1308.0,752.8 C1313.2,753.0 1316.1,753.4 1321.0,754.1 C1325.9,754.8 1331.2,756.0 1337.2,757.2 C1343.2,758.4 1350.4,760.1 1357.0,761.5 C1363.6,762.9 1372.2,764.4 1376.8,765.8 C1381.4,767.2 1383.3,769.3 1384.7,770.0 L1384.7,770.0 C1383.3,770.7 1381.4,772.8 1376.8,774.2 C1372.2,775.6 1363.6,777.1 1357.0,778.5 C1350.4,779.9 1343.2,781.6 1337.2,782.8 C1331.2,784.0 1325.9,785.2 1321.0,785.9 C1316.1,786.6 1313.2,787.0 1308.0,787.2 C1302.8,787.5 1300.5,787.4 1290.0,787.4 C1279.5,787.4 1256.7,787.4 1244.8,787.4 C1232.9,787.4 1224.3,787.2 1218.4,787.1 C1212.5,787.0 1213.6,786.4 1209.2,786.8 C1204.8,787.2 1197.1,788.5 1192.0,789.4 C1186.9,790.3 1184.3,791.5 1178.8,792.4 C1173.3,793.2 1165.6,794.5 1159.0,794.5 C1152.4,794.5 1145.7,793.4 1139.2,792.7 C1132.7,792.1 1128.7,791.1 1120.1,790.6 C1111.5,790.1 1093.1,789.8 1087.7,789.6 Z" fill="#7fb548" filter="url(#b07)"/><path d="M1087.7,751.6 C1093.1,751.4 1111.5,751.1 1120.1,750.6 C1128.7,750.1 1132.7,749.1 1139.2,748.5 C1145.7,747.9 1152.4,746.7 1159.0,746.7 C1165.6,746.8 1173.3,747.9 1178.8,748.8 C1184.3,749.6 1186.9,750.9 1192.0,751.8 C1197.1,752.7 1204.8,754.0 1209.2,754.4 C1213.6,754.8 1212.5,754.2 1218.4,754.1 C1224.3,754.0 1232.9,753.8 1244.8,753.8 C1256.7,753.8 1279.5,753.8 1290.0,753.8 C1300.5,753.8 1302.8,753.8 1308.0,754.0 C1313.2,754.2 1316.1,754.6 1321.0,755.3 C1325.9,756.0 1331.2,757.2 1337.2,758.4 C1343.2,759.6 1350.4,761.3 1357.0,762.7 C1363.6,764.1 1372.6,765.8 1376.8,767.0 C1381.0,768.2 1381.5,769.5 1382.4,770.0 L1382.4,770.0 C1381.5,770.5 1381.0,771.8 1376.8,773.0 C1372.6,774.2 1363.6,775.9 1357.0,777.3 C1350.4,778.7 1343.2,780.4 1337.2,781.6 C1331.2,782.8 1325.9,784.0 1321.0,784.7 C1316.1,785.4 1313.2,785.8 1308.0,786.0 C1302.8,786.2 1300.5,786.2 1290.0,786.2 C1279.5,786.2 1256.7,786.2 1244.8,786.2 C1232.9,786.2 1224.3,786.0 1218.4,785.9 C1212.5,785.8 1213.6,785.2 1209.2,785.6 C1204.8,786.0 1197.1,787.3 1192.0,788.2 C1186.9,789.1 1184.3,790.4 1178.8,791.2 C1173.3,792.1 1165.6,793.2 1159.0,793.3 C1152.4,793.3 1145.7,792.1 1139.2,791.5 C1132.7,790.9 1128.7,789.9 1120.1,789.4 C1111.5,788.9 1093.1,788.6 1087.7,788.4 Z" fill="#8fc43c" filter="url(#b07)"/><path d="M1087.7,753.0 C1093.1,752.8 1111.5,752.5 1120.1,752.0 C1128.7,751.5 1132.7,750.5 1139.2,749.9 C1145.7,749.2 1152.4,748.0 1159.0,748.1 C1165.6,748.2 1173.3,749.4 1178.8,750.2 C1184.3,751.1 1186.9,752.3 1192.0,753.2 C1197.1,754.1 1204.8,755.4 1209.2,755.8 C1213.6,756.2 1212.5,755.6 1218.4,755.5 C1224.3,755.4 1232.9,755.2 1244.8,755.2 C1256.7,755.2 1279.5,755.2 1290.0,755.2 C1300.5,755.2 1302.8,755.1 1308.0,755.4 C1313.2,755.6 1316.1,756.0 1321.0,756.7 C1325.9,757.4 1331.2,758.6 1337.2,759.8 C1343.2,761.0 1350.4,762.7 1357.0,764.1 C1363.6,765.5 1373.0,767.4 1376.8,768.4 C1380.6,769.4 1379.3,769.7 1379.8,770.0 L1379.8,770.0 C1379.3,770.3 1380.6,770.6 1376.8,771.6 C1373.0,772.6 1363.6,774.5 1357.0,775.9 C1350.4,777.3 1343.2,779.0 1337.2,780.2 C1331.2,781.4 1325.9,782.6 1321.0,783.3 C1316.1,784.0 1313.2,784.4 1308.0,784.6 C1302.8,784.9 1300.5,784.8 1290.0,784.8 C1279.5,784.8 1256.7,784.8 1244.8,784.8 C1232.9,784.8 1224.3,784.6 1218.4,784.5 C1212.5,784.4 1213.6,783.8 1209.2,784.2 C1204.8,784.6 1197.1,785.9 1192.0,786.8 C1186.9,787.7 1184.3,788.9 1178.8,789.8 C1173.3,790.6 1165.6,791.8 1159.0,791.9 C1152.4,792.0 1145.7,790.8 1139.2,790.1 C1132.7,789.5 1128.7,788.5 1120.1,788.0 C1111.5,787.5 1093.1,787.2 1087.7,787.0 Z" fill="#e9c822" filter="url(#b1)"/><path d="M1087.7,756.5 C1093.1,756.3 1111.5,756.0 1120.1,755.5 C1128.7,755.0 1132.7,754.0 1139.2,753.4 C1145.7,752.8 1152.4,751.5 1159.0,751.6 C1165.6,751.7 1173.3,752.9 1178.8,753.7 C1184.3,754.6 1186.9,755.8 1192.0,756.7 C1197.1,757.6 1204.8,758.9 1209.2,759.3 C1213.6,759.7 1212.5,759.1 1218.4,759.0 C1224.3,758.9 1232.9,758.8 1244.8,758.7 C1256.7,758.7 1279.5,758.7 1290.0,758.7 C1300.5,758.7 1302.8,758.6 1308.0,758.9 C1313.2,759.1 1316.1,759.5 1321.0,760.2 C1325.9,760.9 1331.2,762.1 1337.2,763.3 C1343.2,764.5 1351.9,766.5 1357.0,767.6 C1362.1,768.7 1366.2,769.6 1368.1,770.0 L1368.1,770.0 C1366.2,770.4 1362.1,771.3 1357.0,772.4 C1351.9,773.5 1343.2,775.5 1337.2,776.7 C1331.2,777.9 1325.9,779.1 1321.0,779.8 C1316.1,780.5 1313.2,780.9 1308.0,781.1 C1302.8,781.4 1300.5,781.3 1290.0,781.3 C1279.5,781.3 1256.7,781.3 1244.8,781.3 C1232.9,781.2 1224.3,781.1 1218.4,781.0 C1212.5,780.9 1213.6,780.3 1209.2,780.7 C1204.8,781.1 1197.1,782.4 1192.0,783.3 C1186.9,784.2 1184.3,785.4 1178.8,786.3 C1173.3,787.1 1165.6,788.3 1159.0,788.4 C1152.4,788.5 1145.7,787.2 1139.2,786.6 C1132.7,786.0 1128.7,785.0 1120.1,784.5 C1111.5,784.0 1093.1,783.7 1087.7,783.5 Z" fill="#f2b71f" filter="url(#b2)"/><g filter="url(#b3)"><path d="M1087.7,760.5 C1093.1,760.3 1111.5,760.0 1120.1,759.5 C1128.7,759.0 1132.7,758.0 1139.2,757.4 C1145.7,756.8 1152.4,755.5 1159.0,755.6 C1165.6,755.7 1173.3,756.9 1178.8,757.7 C1184.3,758.6 1186.9,759.8 1192.0,760.7 C1197.1,761.6 1204.8,762.9 1209.2,763.3 C1213.6,763.7 1212.5,763.1 1218.4,763.0 C1224.3,762.9 1232.9,762.8 1244.8,762.7 C1256.7,762.7 1279.5,762.7 1290.0,762.7 C1300.5,762.7 1302.8,762.6 1308.0,762.9 C1313.2,763.1 1316.1,763.5 1321.0,764.2 C1325.9,764.9 1332.4,766.3 1337.2,767.3 C1342.0,768.3 1347.6,769.5 1349.6,770.0 L1349.6,770.0 C1347.6,770.5 1342.0,771.7 1337.2,772.7 C1332.4,773.7 1325.9,775.1 1321.0,775.8 C1316.1,776.5 1313.2,776.9 1308.0,777.1 C1302.8,777.4 1300.5,777.3 1290.0,777.3 C1279.5,777.3 1256.7,777.3 1244.8,777.3 C1232.9,777.2 1224.3,777.1 1218.4,777.0 C1212.5,776.9 1213.6,776.3 1209.2,776.7 C1204.8,777.1 1197.1,778.4 1192.0,779.3 C1186.9,780.2 1184.3,781.4 1178.8,782.3 C1173.3,783.1 1165.6,784.3 1159.0,784.4 C1152.4,784.5 1145.7,783.2 1139.2,782.6 C1132.7,782.0 1128.7,781.0 1120.1,780.5 C1111.5,780.0 1093.1,779.7 1087.7,779.5 Z" fill="#f5a31d"/><path d="M1080,770 L1110,759 L1250,762 L1300,770 L1250,778 L1110,781 Z" fill="#f59a1c"/><path d="M1060,770 L1076,752 L1098,753 L1120,770 L1098,787 L1076,788 Z" fill="#f7941e"/></g><g filter="url(#b07)"><rect x="1218.4" y="752.2" width="27.6" height="6.4" fill="#3b7c6e"/><rect x="1218.4" y="781.6" width="27.6" height="5.6" fill="#3f9d80"/><rect x="1246" y="752.4" width="60" height="3" fill="#9ab03a" opacity="0.8"/><rect x="1246" y="784.8" width="60" height="2.6" fill="#86c03c" opacity="0.8"/></g><g filter="url(#b1)"><path d="M1137,746.8 C1150,744.3 1165,744.5 1172,746 L1172,748 C1165,747 1150,747 1137,749 Z" fill="#3a9a90"/><path d="M1137,793.2 C1150,795.9 1165,795.7 1172,794 L1172,791.6 C1165,792.8 1150,793 1137,790.8 Z" fill="#2a7555"/><ellipse cx="1383" cy="770" rx="2.6" ry="3.6" fill="#38a0a0"/></g></g></g>
<text x="164.5" y="216.0" text-anchor="end">0<tspan dx="1.5"> μs</tspan></text><text x="164.5" y="359.6" text-anchor="end">0.20<tspan dx="1.5"> μs</tspan></text><text x="164.5" y="501.8" text-anchor="end">0.40<tspan dx="1.5"> μs</tspan></text><text x="164.5" y="644.2" text-anchor="end">0.50<tspan dx="1.5"> μs</tspan></text><text x="164.5" y="785.4" text-anchor="end">0.58<tspan dx="1.5"> μs</tspan></text><g id="axes"><rect x="1476.5" y="161.7" width="45.2" height="35" fill="#ececec"/><rect x="1506.7" y="161.7" width="15" height="35" fill="#636872"/><rect x="1476.5" y="161" width="45.2" height="2.2" fill="#8a8d92"/><rect x="1505.8" y="162" width="1.6" height="35" fill="#44484f"/><rect x="1471.4" y="90" width="6.2" height="111.3" fill="#141213"/><rect x="1471.4" y="195.4" width="104" height="5.9" fill="#141213"/><path d="M1474.5,57.4 L1484.7,94 L1464.3,94 Z" fill="#1d1a1b"/><path d="M1608.5,198.3 L1571.5,208 L1571.5,188.6 Z" fill="#1d1a1b"/><text class="it" x="1462.6" y="46">z</text><text class="it" x="1625" y="209.8">x</text><text class="it" x="1414.6" y="239.5">O</text><text class="it" x="1512" y="238.3">y</text></g>
<text x="1354" y="342.3">Dens<tspan dx="2">ity/(g</tspan><tspan dx="0.7">·</tspan><tspan dx="0.5">cm</tspan><tspan font-size="33" dy="-20" dx="0.3">−</tspan><tspan font-size="33" dy="3" dx="-0.8">3</tspan><tspan dy="17" dx="-0.7">)</tspan></text><g id="cbar"><rect x="1468.3" y="378" width="39.3" height="551.5" fill="url(#cbar)" stroke="#231f20" stroke-width="2.8"/><rect x="1468" y="396.3" width="40" height="2.7" fill="#231f20"/><rect x="1468" y="440.6" width="40" height="2.7" fill="#231f20"/><rect x="1468" y="484.9" width="40" height="2.7" fill="#231f20"/><rect x="1468" y="529.2" width="40" height="2.7" fill="#231f20"/><rect x="1468" y="573.5" width="40" height="2.7" fill="#231f20"/><rect x="1468" y="617.9" width="40" height="2.7" fill="#231f20"/><rect x="1468" y="662.1" width="40" height="2.7" fill="#231f20"/><rect x="1468" y="706.4" width="40" height="2.7" fill="#231f20"/><rect x="1468" y="750.7" width="40" height="2.7" fill="#231f20"/><rect x="1468" y="795.0" width="40" height="2.7" fill="#231f20"/><rect x="1468" y="839.4" width="40" height="2.7" fill="#231f20"/><rect x="1468" y="883.6" width="40" height="2.7" fill="#231f20"/><text x="1528.5" y="417.1">8.7</text><text x="1528.5" y="461.4">8.0</text><text x="1528.5" y="505.6">7.3</text><text x="1528.5" y="549.9">6.5</text><text x="1528.5" y="594.2">5.8</text><text x="1528.5" y="638.5">5.1</text><text x="1528.5" y="682.7">4.4</text><text x="1528.5" y="727.0">3.6</text><text x="1528.5" y="771.3">2.9</text><text x="1528.5" y="815.5">2.2</text><text x="1528.5" y="859.8">1.5</text><text x="1528.5" y="904.1">0.7</text><text x="1528.5" y="948.3">0</text></g>
<g id="chart"><rect x="2159.8" y="842.5" width="2.6" height="13" fill="#1a1a1a"/><rect x="2350.1" y="842.5" width="2.6" height="13" fill="#1a1a1a"/><rect x="2540.4" y="842.5" width="2.6" height="13" fill="#1a1a1a"/><rect x="2730.7" y="842.5" width="2.6" height="13" fill="#1a1a1a"/><rect x="2921.0" y="842.5" width="2.6" height="13" fill="#1a1a1a"/><rect x="1970.8" y="689.2" width="14" height="2.6" fill="#1a1a1a"/><rect x="1970.8" y="523.8" width="14" height="2.6" fill="#1a1a1a"/><rect x="1970.8" y="358.3" width="14" height="2.6" fill="#1a1a1a"/><rect x="1970.8" y="192.9" width="14" height="2.6" fill="#1a1a1a"/><text x="1949.5" y="874.3" text-anchor="end">6.5</text><text x="1949.5" y="708.8" text-anchor="end">7.0</text><text x="1949.5" y="543.4" text-anchor="end">7.5</text><text x="1949.5" y="377.9" text-anchor="end">8.0</text><text x="1949.5" y="212.5" text-anchor="end">8.5</text><text x="1949.5" y="47.0" text-anchor="end">9.0</text><text x="1969.8" y="917.1" text-anchor="middle">0</text><text x="2160.1" y="917.1" text-anchor="middle">0.1</text><text x="2350.4" y="917.1" text-anchor="middle">0.2</text><text x="2540.7" y="917.1" text-anchor="middle">0.3</text><text x="2731.0" y="917.1" text-anchor="middle">0.4</text><text x="2921.3" y="917.1" text-anchor="middle">0.5</text><text x="3111.6" y="917.1" text-anchor="middle">0.6</text><path d="M1970.9,733.8 C1975.7,731.0 1987.3,724.2 1999.7,716.9 C2012.1,709.6 2030.2,699.1 2045.4,689.8 C2060.6,680.5 2075.6,671.0 2091.1,661.1 C2106.6,651.2 2124.1,640.1 2138.7,630.5 C2153.3,620.9 2165.2,612.8 2178.5,603.7 C2191.8,594.6 2197.9,590.1 2218.2,575.9 C2238.4,561.7 2273.1,537.5 2300.0,518.7 C2326.9,499.9 2352.9,482.3 2379.4,463.1 C2405.9,443.9 2432.3,424.2 2458.9,403.6 C2485.5,383.0 2515.6,358.1 2539.0,339.5 C2562.4,320.9 2579.6,307.1 2599.6,292.1 C2619.6,277.1 2639.3,262.7 2659.2,249.4 C2679.0,236.2 2702.1,222.4 2718.7,212.6 C2735.2,202.8 2745.8,197.5 2758.5,190.8 C2771.2,184.1 2783.1,178.5 2795.0,172.6 C2806.9,166.7 2817.3,161.3 2829.7,155.5 C2842.1,149.7 2859.6,141.8 2869.5,137.6 C2879.4,133.4 2882.8,132.5 2889.4,130.6 C2896.0,128.7 2902.6,127.4 2909.2,126.2 C2915.8,125.0 2922.5,124.0 2929.1,123.3 C2935.7,122.5 2943.0,122.0 2949.0,121.7 C2955.0,121.4 2958.3,121.2 2964.9,121.3 C2971.5,121.4 2981.4,121.6 2988.7,122.1 C2996.0,122.6 3002.0,123.2 3008.6,124.1 C3015.2,125.0 3022.0,126.2 3028.5,127.6 C3035.0,128.9 3044.2,131.4 3047.4,132.2" fill="none" stroke="#2f50a3" stroke-width="3.0" stroke-linecap="round"/><rect x="1970.8" y="28.7" width="1141.8" height="827.3" fill="none" stroke="#1a1a1a" stroke-width="2.8"/><text x="2448.6" y="995.2">T<tspan dx="2.2">ime/</tspan><tspan dx="0.7">μ</tspan><tspan dx="2.7">s</tspan></text><g transform="translate(1831,559.7) rotate(-90)"><text class="it" transform="translate(1.6,0) scale(1.12,1)" x="0" y="0">ρ</text><rect x="3.8" y="-33.7" width="28.9" height="2.8" fill="#231f20"/><text x="35.3" y="0">/</text><text x="50.1" y="0">(</text><text x="67.8" y="0">g</text><text x="95.6" y="0">·</text><text x="114.5" y="0">c</text><text x="138.4" y="0">m</text><text x="216.1" y="0">)</text><text x="181.9" y="-17.8" font-size="33" style="font-size:33px">−</text><text x="200.5" y="-17.3" font-size="33" style="font-size:33px">3</text></g></g>
<text x="764.5" y="1090.3">(<tspan dx="0.8">a</tspan><tspan dx="0.8">)</tspan></text><text x="2508.5" y="1090.8">(<tspan dx="0.8">b</tspan><tspan dx="0.8">)</tspan></text></svg>
</body></html>
